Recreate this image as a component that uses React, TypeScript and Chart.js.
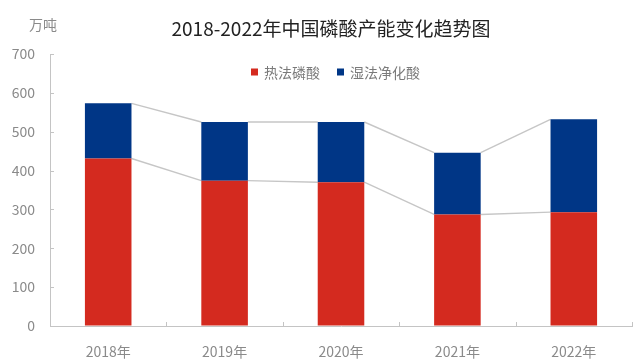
import React, { useEffect, useRef } from 'react';
import { Chart, registerables } from 'chart.js';

Chart.register(...registerables);

const TITLE = '2018-2022年中国磷酸产能变化趋势图';
const UNIT = '万吨';
const categories = ['2018年', '2019年', '2020年', '2021年', '2022年'];
const seriesNames = ['热法磷酸', '湿法净化酸'];
const thermal = [431, 374, 370, 287, 293];
const wetPurified = [142, 151, 155, 159, 239];
const yMin = 0;
const yMax = 700;
const yStep = 100;

const FONT = '"Noto Sans CJK SC", "Noto Sans", sans-serif';
const RED = '#D42A1F';
const BLUE = '#003686';
const AXIS = '#c4c4c4';
const LABEL = '#8a8a8a';

const connectors = {
  id: 'connectors',
  beforeDatasetsDraw(chart: any) {
    const ctx = chart.ctx;
    ctx.save();
    ctx.strokeStyle = '#c6c6c6';
    ctx.lineWidth = 1.4;
    chart.data.datasets.forEach((_: any, di: number) => {
      const pts = chart.getDatasetMeta(di).data as any[];
      for (let i = 0; i < pts.length - 1; i++) {
        const a = pts[i];
        const b = pts[i + 1];
        ctx.beginPath();
        ctx.moveTo(a.x + a.width / 2, a.y);
        ctx.lineTo(b.x - b.width / 2, b.y);
        ctx.stroke();
      }
    });
    ctx.restore();
  },
};

const innerTicks = {
  id: 'innerTicks',
  afterDatasetsDraw(chart: any) {
    const ctx = chart.ctx;
    const { left, right, bottom } = chart.chartArea;
    const ys = chart.scales.y;
    ctx.save();
    ctx.strokeStyle = AXIS;
    ctx.lineWidth = 1;
    ys.ticks.forEach((t: any) => {
      const py = Math.round(ys.getPixelForValue(t.value)) + 0.5;
      ctx.beginPath();
      ctx.moveTo(left, py);
      ctx.lineTo(left + 4, py);
      ctx.stroke();
    });
    const n = chart.data.labels.length;
    for (let i = 0; i <= n; i++) {
      const px = Math.round(left + ((right - left) * i) / n) + 0.5;
      ctx.beginPath();
      ctx.moveTo(px, bottom);
      ctx.lineTo(px, bottom - 4);
      ctx.stroke();
    }
    ctx.restore();
  },
};

const headings = {
  id: 'headings',
  afterDraw(chart: any) {
    const ctx = chart.ctx;
    ctx.save();
    ctx.textBaseline = 'middle';
    ctx.textAlign = 'center';
    ctx.fillStyle = '#222222';
    ctx.font = '19px ' + FONT;
    ctx.fillText(TITLE, 331, 29);
    ctx.fillStyle = LABEL;
    ctx.font = '14px ' + FONT;
    ctx.fillText(UNIT, 43, 25);

    // legend inside the plot area
    const ds = chart.data.datasets;
    ctx.font = '14px ' + FONT;
    const box = 7;
    const gap = 6;
    const itemGap = 17;
    const widths = ds.map((d: any) => ctx.measureText(d.label).width);
    const total = widths.reduce((s: number, w: number) => s + box + gap + w, 0) + itemGap * (ds.length - 1);
    let x = 335.5 - total / 2;
    const cy = 72;
    ctx.textAlign = 'left';
    ds.forEach((d: any, i: number) => {
      ctx.fillStyle = d.backgroundColor;
      ctx.fillRect(Math.round(x), cy - 3.5, box, box);
      ctx.fillStyle = '#7a7a7a';
      ctx.fillText(d.label, x + box + gap, cy + 0.5);
      x += box + gap + widths[i] + itemGap;
    });
    ctx.restore();
  },
};

export default function App() {
  const ref = useRef<HTMLCanvasElement | null>(null);

  useEffect(() => {
    if (!ref.current) return;
    const chart = new Chart(ref.current, {
      type: 'bar',
      data: {
        labels: categories,
        datasets: [
          {
            label: seriesNames[0],
            data: thermal,
            backgroundColor: RED,
            borderWidth: 0,
            barPercentage: 0.5,
            categoryPercentage: 0.8,
          },
          {
            label: seriesNames[1],
            data: wetPurified,
            backgroundColor: BLUE,
            borderWidth: 0,
            barPercentage: 0.5,
            categoryPercentage: 0.8,
          },
        ],
      },
      options: {
        animation: false,
        responsive: true,
        maintainAspectRatio: false,
        layout: { padding: { top: 54, left: 11, right: 8, bottom: 0 } },
        plugins: {
          title: { display: false },
          tooltip: { enabled: false },
          legend: { display: false },
        },
        scales: {
          x: {
            stacked: true,
            grid: { display: true, drawOnChartArea: false, drawTicks: false },
            border: { display: true, color: AXIS },
            ticks: { color: LABEL, padding: 17, font: { size: 14, family: FONT } },
            afterFit: (s: any) => {
              s.height = 34;
            },
          },
          y: {
            stacked: true,
            min: yMin,
            max: yMax,
            grid: { display: true, drawOnChartArea: false, drawTicks: false },
            border: { display: true, color: AXIS },
            ticks: { stepSize: yStep, color: LABEL, padding: 15, font: { size: 14, family: FONT } },
            afterFit: (s: any) => {
              s.width = 39;
            },
          },
        },
      },
      plugins: [connectors, innerTicks, headings],
    });
    return () => chart.destroy();
  }, []);

  return (
    <div style={{ position: 'fixed', left: 0, top: 0, width: 640, height: 360, background: '#fff' }}>
      <canvas ref={ref} />
    </div>
  );
}
